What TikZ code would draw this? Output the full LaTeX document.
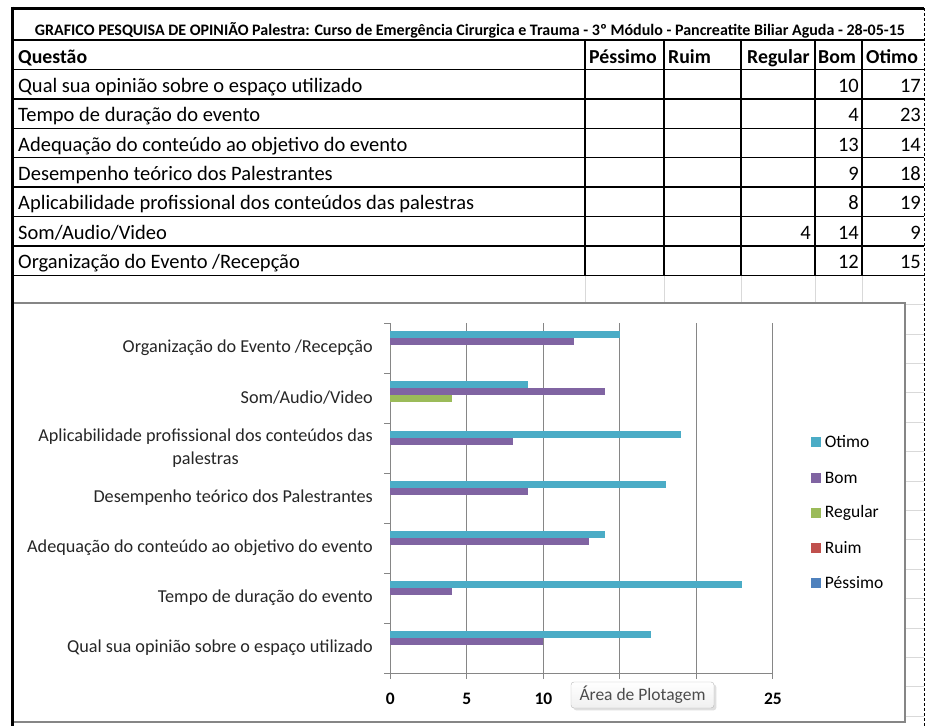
\documentclass[tikz,border=0pt]{standalone}
\usepackage{fontspec}
\setmainfont{Carlito}
\usetikzlibrary{positioning}
\usetikzlibrary{shadows}
\definecolor{cotimo}{HTML}{4BACC6}
\definecolor{cbom}{HTML}{8064A2}
\definecolor{cregular}{HTML}{9BBB59}
\definecolor{cruim}{HTML}{C0504D}
\definecolor{cpessimo}{HTML}{4F81BD}
\definecolor{axisgray}{HTML}{868686}
\definecolor{sheetgray}{HTML}{D9D9D9}
\tikzset{
    frame/.style = {line width=3pt,draw=black},
    rule/.style = {line width=1.4pt,draw=black},
    sheetline/.style = {line width=0.9pt,draw=sheetgray},
    pagebreak/.style = {line width=1pt,draw=black,dash pattern=on 3pt off 2pt},
    titletext/.style = {font=\bfseries\fontsize{16}{18}\selectfont,inner sep=0pt,anchor=base},
    headtext/.style = {font=\bfseries\fontsize{19.8}{24}\selectfont,inner sep=0pt,anchor=base west},
    celltext/.style = {font=\fontsize{20.5}{24}\selectfont,inner sep=0pt,anchor=base west},
    numtext/.style = {font=\fontsize{20.5}{24}\selectfont,inner sep=0pt,anchor=base east},
    chartframe/.style = {line width=1.2pt,draw=axisgray},
    gridln/.style = {line width=1pt,draw=axisgray},
    catlabel/.style = {font=\fontsize{18.2}{23}\selectfont,inner sep=0pt,anchor=east,align=center,text=black!85},
    ticklabel/.style = {font=\bfseries\fontsize{17.5}{20}\selectfont,inner sep=0pt},
    legbox/.style = {minimum size=10pt,inner sep=0pt},
    legtext/.style = {font=\fontsize{17.5}{20}\selectfont,inner sep=0pt},
    tipbox/.style = {rounded corners=3pt,draw=gray!55,top color=white,bottom color=gray!12,
        drop shadow={opacity=0.25},minimum width=143pt,minimum height=26pt,inner sep=0pt,
        font=\fontsize{17.5}{20}\selectfont,text=black!70}
}

\begin{document}
\begin{tikzpicture}[x=1pt,y=-1pt]
\useasboundingbox (0,0) rectangle (928,726);
%
% sheet grid outside the table
\foreach \gx in {585,664,741,815,862} \draw[sheetline] (\gx,275.2) -- (\gx,303);
\foreach \k in {1,...,15} \draw[sheetline] (905,{275.2+29.4*\k}) -- (924,{275.2+29.4*\k});
%
% table
\foreach \k in {0,...,8} \draw[rule] (12,{40+29.4*\k}) -- (924,{40+29.4*\k});
\foreach \gx in {585,664,741,815,862} \draw[rule] (\gx,40) -- (\gx,275.2);
\node[titletext] (title) at (470,35) {GRAFICO PESQUISA DE OPINIÃO Palestra: Curso de Emergência Cirurgica e Trauma - 3º Módulo - Pancreatite Biliar Aguda - 28-05-15};
\node[headtext] (hq) at (18,63) {Questão};
\node[headtext] (hp) at (589,63) {Péssimo};
\node[headtext] (hr) at (668,63) {Ruim};
\node[headtext] (hg) at (747,63) {Regular};
\node[headtext] (hb) at (818,63) {Bom};
\node[headtext] (ho) at (866,63) {Otimo};
\foreach \q/\bm/\ot [count=\r] in {{Qual sua opinião sobre o espaço utilizado}/10/17,
    {Tempo de duração do evento}/4/23, {Adequação do conteúdo ao objetivo do evento}/13/14,
    {Desempenho teórico dos Palestrantes}/9/18, {Aplicabilidade profissional dos conteúdos das palestras}/8/19,
    {Som/Audio/Video}/14/9, {Organização do Evento /Recepção}/12/15}
{
  \node[celltext] (q\r) at (18,{62.9+29.4*\r}) {\q};
  \node[numtext] (b\r) at (859,{62.9+29.4*\r}) {\bm};
  \node[numtext] (o\r) at (921,{62.9+29.4*\r}) {\ot};
}
\node[numtext] (g6) at (811,{62.9+29.4*6}) {4};
%
% chart
\draw[chartframe,fill=white] (13.5,303) rectangle (905,722);
\foreach \k in {1,...,5} \draw[gridln] ({390.4+76.5*\k},323) -- ({390.4+76.5*\k},673);
\foreach \k in {0,...,5} \draw[gridln] ({390.4+76.5*\k},673) -- ({390.4+76.5*\k},679);
\foreach \k in {0,...,7} \draw[gridln] (384,{323+50*\k}) -- (390.4,{323+50*\k});
\draw[gridln] (390.4,323) -- (390.4,673) (384,673) -- (772.9,673);
\foreach \c/\ot/\bm/\rg [count=\i from 0] in {{Organização do Evento /Recepção}/15/12/0,
    {Som/Audio/Video}/9/14/4, {Aplicabilidade profissional dos conteúdos das\\palestras}/19/8/0,
    {Desempenho teórico dos Palestrantes}/18/9/0, {Adequação do conteúdo ao objetivo do evento}/14/13/0,
    {Tempo de duração do evento}/23/4/0, {Qual sua opinião sobre o espaço utilizado}/17/10/0}
{
  \fill[cotimo] (390.4,{323+50*\i+7.5}) rectangle ({390.4+15.3*\ot},{323+50*\i+14.5});
  \fill[cbom] (390.4,{323+50*\i+14.5}) rectangle ({390.4+15.3*\bm},{323+50*\i+21.5});
  \fill[cregular] (390.4,{323+50*\i+21.5}) rectangle ({390.4+15.3*\rg},{323+50*\i+28.5});
  \node[catlabel] (c\i) at (373,{323+50*\i+25}) {\c};
}
\node[ticklabel] (t0) at (390.4,699) {0};
\node[ticklabel] (t5) at (466.9,699) {5};
\node[ticklabel] (t10) at (543.4,699) {10};
\node[ticklabel] (t25) at (772.9,699) {25};
%
% legend
\node[legbox,fill=cotimo] (lo) at (815.5,442) {};
\node[legbox,fill=cbom] (lb) at (815.5,478) {};
\node[legbox,fill=cregular] (lg) at (815.5,513) {};
\node[legbox,fill=cruim] (lr) at (815.5,548) {};
\node[legbox,fill=cpessimo] (lp) at (815.5,583) {};
\node[legtext,right=4pt of lo] {Otimo};
\node[legtext,right=4pt of lb] {Bom};
\node[legtext,right=4pt of lg] {Regular};
\node[legtext,right=4pt of lr] {Ruim};
\node[legtext,right=4pt of lp] {Péssimo};
%
\node[tipbox] (tip) at (642.5,695) {Área de Plotagem};
%
\draw[frame] (12,8) -- (924,8);
\draw[frame] (12,6.5) -- (12,726);
\draw[pagebreak] (924,8) -- (924,726);
\end{tikzpicture}
\end{document}
